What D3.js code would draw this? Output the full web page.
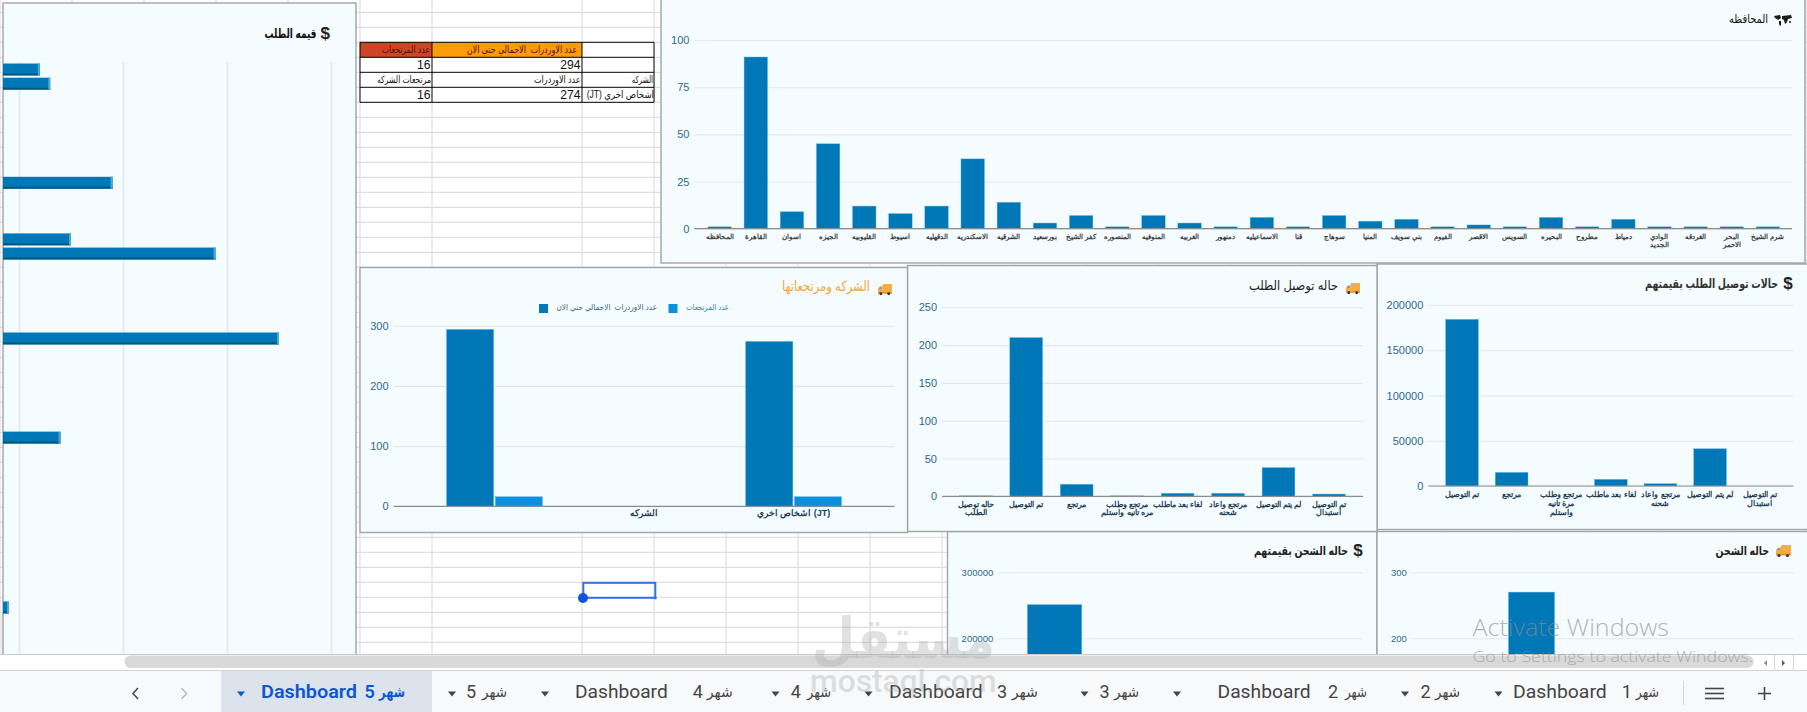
<!DOCTYPE html>
<html>
<head>
<meta charset="utf-8">
<script src="https://cdnjs.cloudflare.com/ajax/libs/d3/7.8.5/d3.min.js"></script>
<style>
  html, body { margin: 0; padding: 0; background: #fff; overflow: hidden; }
  svg { display: block; font-family: "Liberation Sans", "DejaVu Sans", sans-serif; }
  .cat text { font-weight: 600; }
  .domain { display: none; }
</style>
</head>
<body>
<svg id="sheet" width="1807" height="712"></svg>
<script>
// Governorate orders
const governorates = ["المحافظه","القاهرة","اسوان","الجيزه","القليوبيه","اسيوط","الدقهليه","الاسكندريه","الشرقيه","بورسعيد","كفر الشيخ","المنصوره","المنوفيه","الغربيه","دمنهور","الاسماعيليه","قنا","سوهاج","المنيا","بني سويف","الفيوم","الاقصر","السويس","البحيره","مطروح","دمياط","الوادي|الجديد","الغردقه","البحر|الاحمر","شرم الشيخ"];
const governorateOrders = [1,91,9,45,12,8,12,37,14,3,7,1,7,3,1,6,1,7,4,5,1,2,1,6,1,5,1,1,1,1];
const governorateTicks = [0,25,50,75,100];

// Carriers and their returns
const carriers = ["","الشركه","اشخاص اخري (JT)"];
const carrierOrders = [294,0,274];
const carrierReturns = [16,0,16];
const carrierTicks = [0,100,200,300];
const ordersLegend = "عدد الاوردرات  الاجمالي حتي الان";
const returnsLegend = "عدد المرتجعات";

// Delivery status counts
const deliveryStatuses = ["حاله توصيل|الطلب","تم التوصيل","مرتجع","مرتجع وطلب|مره تانيه واستلم","لغاء بعد ماطلب","مرتجع واعاد|شحنه","لم يتم التوصيل","تم التوصيل|استبدال"];
const deliveryCounts = [1,210,16,1,4,4,38,3];
const deliveryTicks = [0,50,100,150,200,250];

// Delivery status value
const valueStatuses = ["تم التوصيل","مرتجع","مرتجع وطلب|مرة تانيه|واستلم","لغاء بعد ماطلب","مرتجع واعاد|شحنه","لم يتم التوصيل","تم التوصيل|استبدال"];
const statusValues = [184200,15100,0,7400,2600,41200,0];
const statusValueTicks = [0,50000,100000,150000,200000];

// Shipping status: only the visible columns carry a value
const shippingSlots = [0,1,2,3,4];
const shippingCounts = [null,270,null,null,null];
const shippingCountTicks = [0,100,200,300];
const shippingValueSlots = [0,1,2,3];
const shippingValues = [251000,null,null,null];
const shippingValueTicks = [0,100000,200000,300000];

// Order value per row of the horizontal chart
const orderRows = [0,1,8,12,13,19,26,38];
const orderValues = [12000,13000,19000,15000,28900,35000,14000,9040];
const orderValueTicks = [10000,20000,30000,40000];
const orderRowCount = 42;

// Summary table
const tableHeader = ["عدد المرتجعات", ordersLegend, ""];
const tableTotals = ["16","294",""];
const tableCaptions = ["مرتجعات الشركه","عدد الاوردرات","الشركه"];
const tableCarrier = ["16","274","(JT) اشخاص اخري"];

// Sheet tabs, left to right
const tabNumbers = ["5","5","4","4","3","3","2","2","1"];
const tabIsDashboard = [true,false,true,false,true,false,true,false,true];
const monthWord = "شهر", dashboardWord = "Dashboard";

const BAR = "#0077b6", BAR_LIGHT = "#0a90de", EDGE = "#6fbde6";
const PANEL = "#f5fcff", BORDER = "#a0a3a6", TICK = "#2c6a8e", GRID = "#e1e7eb";
const svg = d3.select("#sheet");

svg.append("clipPath").attr("id","viewport").append("rect")
  .attr("width",1807).attr("height",654.5);
const sheet = svg.append("g").attr("clip-path","url(#viewport)");

// Spreadsheet cell lines
const rowLines = d3.range(12.3,660,15);
const cells = sheet.append("g").attr("stroke","#dedede").attr("stroke-width",1.2);
cells.selectAll(".c").data([0,72,144,216,288,360,432].concat(d3.range(582,1807,72))).join("line")
  .attr("x1",d=>d).attr("x2",d=>d).attr("y1",0).attr("y2",655);
cells.selectAll(".r").data(rowLines).join("line")
  .attr("x1",0).attr("x2",1807).attr("y1",d=>d).attr("y2",d=>d);
sheet.append("rect").attr("x",0).attr("y",614).attr("width",3).attr("height",40).attr("fill","#eeeeee");

function panel(x0,y0,x1,y1){
  return sheet.append("rect").attr("x",x0).attr("y",y0).attr("width",x1-x0).attr("height",y1-y0)
    .attr("fill",PANEL).attr("stroke",BORDER).attr("stroke-width",1.4);
}

function fitted(g,text,x0,x1,y,size,opts={}){
  return g.append("text").attr("x",x0).attr("y",y).attr("dominant-baseline","middle")
    .attr("font-size",size).attr("fill",opts.fill||"#222").attr("font-weight",opts.weight||400)
    .style("white-space","pre")
    .attr("textLength",x1-x0).attr("lengthAdjust","spacingAndGlyphs").text(text);
}

function dollar(g,x1,y,size=17){
  g.append("text").attr("x",x1).attr("y",y).attr("text-anchor","end").attr("dominant-baseline","middle")
   .attr("font-size",size).attr("font-weight",700).attr("fill","#222").text("$");
}

function truck(g,x,y,w){
  const k = w/15, t = g.append("g").attr("transform",`translate(${x},${y}) scale(${k})`);
  t.append("rect").attr("x",5).attr("y",0).attr("width",10).attr("height",9).attr("fill","#f7ab45").attr("rx",.8);
  t.append("path").attr("d","M0 9 V5 L2 2.5 H5 V9 Z").attr("fill","#f7ab45");
  t.append("path").attr("d","M1 5 L2.4 3.4 H4.2 V5 Z").attr("fill","#3ea0e0");
  t.append("rect").attr("x",0).attr("y",8.6).attr("width",15).attr("height",1.8).attr("fill","#e8912c");
  [3,11.5].forEach(c => t.append("circle").attr("cx",c).attr("cy",10.5).attr("r",1.6).attr("fill","#33383c"));
}

function worldMap(g,x,y){
  const m = g.append("g").attr("transform",`translate(${x},${y})`).attr("fill","#1b1b1b");
  m.append("path").attr("d","M0 1 L6 0 L7 3 L4 5 L3 4 L1 3 Z");
  m.append("path").attr("d","M5 6 L7 6 L7 10 L6 11 L5 9 Z");
  m.append("path").attr("d","M8 1 L17 0 L18 3 L14 4 L13 7 L11 9 L10 5 L8 4 Z");
  m.append("circle").attr("cx",16).attr("cy",7).attr("r",1);
}

// Vertical column chart with gridlines and band labels
function columns(c){
  const g = sheet.append("g");
  const y = d3.scaleLinear().domain([c.ticks[0],c.ticks[c.ticks.length-1]]).range([c.y0,c.y1]);
  const x = d3.scaleBand().domain(c.cats).range([c.bandL,c.bandR]).paddingInner(c.pad).paddingOuter(c.pad/2);

  g.append("g").attr("transform",`translate(${c.plotL},0)`)
    .call(d3.axisLeft(y).tickValues(c.ticks).tickSize(-(c.plotR-c.plotL)).tickPadding(5).tickFormat(d3.format("d")))
    .call(a => a.selectAll("line").attr("stroke",GRID).attr("stroke-width",1.1))
    .call(a => a.selectAll("text").attr("fill",TICK).attr("font-size",c.tickSize||11).attr("font-family","Liberation Sans"));

  if (c.series) c.series(g,x,y);
  else g.append("g").selectAll("rect").data(c.vals.map((v,i)=>({v,i})).filter(d=>d.v!=null&&d.v>0)).join("rect")
    .attr("x",d=>x(c.cats[d.i])).attr("width",x.bandwidth())
    .attr("y",d=>y(d.v)).attr("height",d=>Math.max(y(0)-y(d.v),1))
    .attr("fill",d=>(y(0)-y(d.v))<1?"#9dcfe8":BAR).attr("stroke",EDGE).attr("stroke-width",.4);

  g.append("line").attr("x1",c.plotL).attr("x2",c.plotR).attr("y1",y(0)).attr("y2",y(0))
    .attr("stroke","#888e92").attr("stroke-width",1.2);

  if (c.labels !== false) {
    const ax = g.append("g").attr("class","cat").attr("transform",`translate(0,${y(0)})`)
      .call(d3.axisBottom(x).tickSize(0).tickPadding(0).tickFormat(""));
    ax.selectAll(".tick").select("text").each(function(d){
      const t = d3.select(this).attr("y",c.labelDy).attr("dy",0).attr("fill",c.labelFill||"#3d3d3d").attr("font-size",c.labelSize||8.4);
      d.split("|").forEach((line,i)=> t.append("tspan").attr("x",0).attr("dy",i?c.lineH||8.6:0).text(line));
    });
  }
  return g;
}

// ---- Horizontal order value chart, running off the left edge ----
panel(3,3,356,670);
const orderPane = sheet.append("g");
const ox = d3.scaleLinear().domain([10000,40000]).range([19,331]);
const oy = d3.scaleBand().domain(d3.range(orderRowCount)).range([62.4,657]).paddingInner(.16).paddingOuter(.08);
orderPane.append("g").attr("transform","translate(0,654)")
  .call(d3.axisBottom(ox).tickValues(orderValueTicks).tickSize(-592).tickFormat(""))
  .call(a => a.selectAll("line").attr("stroke","#e2ebef").attr("stroke-width",2));
const rows = orderPane.selectAll(".bar").data(orderValues.map((v,i)=>({v,row:orderRows[i]}))).join("g");
rows.append("rect").attr("x",3).attr("y",d=>oy(d.row)).attr("width",d=>ox(d.v)-3).attr("height",oy.bandwidth()).attr("fill",BAR);
rows.append("rect").attr("x",3).attr("y",d=>oy(d.row)+oy.bandwidth()-2).attr("width",d=>ox(d.v)-3).attr("height",2).attr("fill","#02577f");
rows.append("rect").attr("x",d=>ox(d.v)-2).attr("y",d=>oy(d.row)).attr("width",2).attr("height",oy.bandwidth()).attr("fill","#4da7d8");
fitted(orderPane,"قيمه الطلب",264.5,316.5,35,13,{weight:700,fill:"#111"});
dollar(orderPane,330,35);

// ---- Summary table ----
const colX = [360,432,582,654], rowY = [42.3,57.3,72.3,87.3,102.3];
const tableRowsAll = [tableHeader,tableTotals,tableCaptions,tableCarrier];
const cellSpan = [
  [[381.7,430],[466.7,577],null],
  [null,null,null],
  [[377,431],[534,580.5],[631.7,653]],
  [null,null,[586.7,654]]
];
const table = sheet.append("g");
table.append("rect").attr("x",360).attr("y",42.3).attr("width",294).attr("height",60).attr("fill","#fff");
table.append("rect").attr("x",360).attr("y",42.3).attr("width",72).attr("height",15).attr("fill","#cf4524");
table.append("rect").attr("x",432).attr("y",42.3).attr("width",150).attr("height",15).attr("fill","#ff9a0b");
table.selectAll(".v").data(colX).join("line").attr("x1",d=>d).attr("x2",d=>d).attr("y1",42.3).attr("y2",102.3).attr("stroke","#000");
table.selectAll(".h").data(rowY).join("line").attr("x1",360).attr("x2",654).attr("y1",d=>d).attr("y2",d=>d).attr("stroke","#000");
tableRowsAll.forEach((row,r)=> row.forEach((txt,c)=>{
  if (!txt) return;
  const span = cellSpan[r][c], cy = rowY[r]+8;
  if (span) fitted(table,txt,span[0],span[1],cy,10,{fill:r===0?"#4a1204":"#111"});
  else table.append("text").attr("x",colX[c+1]-1.5).attr("y",cy).attr("text-anchor","end")
    .attr("dominant-baseline","middle").attr("font-size",12.2).attr("fill","#111").text(txt);
}));

// ---- Governorates ----
panel(661,-5,1805,263);
const gov = columns({cats:governorates,vals:governorateOrders,ticks:governorateTicks,
  plotL:694.4,plotR:1792,bandL:701.6,bandR:1786,pad:.35,y0:228.7,y1:40,labelDy:10.3,labelSize:7.3,lineH:7.8});
fitted(gov,"المحافظه",1729,1768,20,12,{fill:"#111"});
worldMap(gov,1774,15);

// ---- Shipping status panels sit under the upper row ----
panel(947.5,531.5,1377,700);
const shipValue = columns({cats:shippingValueSlots,vals:shippingValues,ticks:shippingValueTicks,tickSize:9.5,
  plotL:998.3,plotR:1362.7,bandL:1012.6,bandR:1348.6,pad:.352,y0:770.3,y1:572.3,labels:false});
fitted(shipValue,"حاله الشحن بقيمتهم",1254,1348,552,12,{weight:700,fill:"#222"});
dollar(shipValue,1362.7,552);

panel(1377,531.5,1812,700);
const shipCount = columns({cats:shippingSlots,vals:shippingCounts,ticks:shippingCountTicks,tickSize:9.5,
  plotL:1411.8,plotR:1793.6,bandL:1425,bandR:1780,pad:.35,y0:770.3,y1:572.3,labels:false});
fitted(shipCount,"حاله الشحن",1715.5,1769,552,12,{weight:700,fill:"#222"});
truck(shipCount,1776,545,15);

// ---- Delivery value ----
panel(1377,264,1812,529.5);
const status = columns({cats:valueStatuses,vals:statusValues,ticks:statusValueTicks,
  plotL:1428.3,plotR:1793.3,bandL:1437.2,bandR:1784.5,pad:.34,y0:486,y1:305,labelDy:10.5,labelSize:8.2,lineH:9,labelFill:"#1f3f58"});
fitted(status,"حالات توصيل الطلب بقيمتهم",1645,1778,285,13,{weight:700,fill:"#333"});
dollar(status,1792.7,285);

// ---- Delivery counts ----
panel(907.5,265.5,1377,531.5);
const delivery = columns({cats:deliveryStatuses,vals:deliveryCounts,ticks:deliveryTicks,
  plotL:942,plotR:1363,bandL:950.5,bandR:1354.2,pad:.35,y0:496.3,y1:307.3,labelDy:11,labelSize:8.2,lineH:8,labelFill:"#1f3f58"});
fitted(delivery,"حاله توصيل الطلب",1249,1338,286.7,13,{fill:"#222"});
truck(delivery,1346,283,14);

// ---- Carriers and returns ----
panel(360,267.5,907.5,532.5);
const carrierPane = columns({cats:carriers,ticks:carrierTicks,
  plotL:393.6,plotR:894.7,bandL:419.7,bandR:868.4,pad:.358,y0:506.3,y1:325.7,labelDy:10,labelSize:9,labelFill:"#1f3f58",
  series(g,x,y){
    const inner = d3.scaleBand().domain([0,1]).range([0,x.bandwidth()]).paddingInner(.03);
    const groups = g.selectAll(".grp").data(carriers).join("g").attr("transform",d=>`translate(${x(d)},0)`);
    groups.append("rect").attr("x",inner(0)).attr("width",inner.bandwidth())
      .attr("y",(d,i)=>y(carrierOrders[i])).attr("height",(d,i)=>y(0)-y(carrierOrders[i]))
      .attr("fill",BAR).attr("stroke",EDGE).attr("stroke-width",.5);
    groups.append("rect").attr("x",inner(1)).attr("width",inner.bandwidth())
      .attr("y",(d,i)=>y(carrierReturns[i])).attr("height",(d,i)=>y(0)-y(carrierReturns[i]))
      .attr("fill",BAR_LIGHT).attr("stroke",EDGE).attr("stroke-width",.5);
  }});
fitted(carrierPane,"الشركه ومرتجعاتها",782,870,287.7,14,{fill:"#f5a63d"});
truck(carrierPane,878,284,14);
const legend = carrierPane.append("g");
legend.append("rect").attr("x",539).attr("y",304).attr("width",9).attr("height",9).attr("fill",BAR);
fitted(legend,ordersLegend,556.5,657,308,8.5,{fill:"#45657c"});
legend.append("rect").attr("x",668.5).attr("y",304).attr("width",9).attr("height",9).attr("fill",BAR_LIGHT);
fitted(legend,returnsLegend,686,729,308,8.5,{fill:"#2a86c8"});

// Selected cell with its range handles
const sel = sheet.append("g");
sel.append("rect").attr("x",583.3).attr("y",582.8).attr("width",72).attr("height",15).attr("fill","none").attr("stroke","#356fe3").attr("stroke-width",2);
sel.append("circle").attr("cx",583).attr("cy",598).attr("r",5).attr("fill","#0f57d6");
sel.append("circle").attr("cx",655.3).attr("cy",598).attr("r",1.4).attr("fill","#356fe3");

// ---- Workbook chrome ----
const chrome = svg.append("g");
chrome.append("rect").attr("y",654.5).attr("width",1807).attr("height",16).attr("fill","#fff");
chrome.append("line").attr("x1",0).attr("x2",1807).attr("y1",654.5).attr("y2",654.5).attr("stroke","#c9c9c9");
chrome.append("rect").attr("x",124.5).attr("y",655.5).attr("width",1629).attr("height",12.5).attr("rx",6).attr("fill","#d9d9d9");
chrome.append("rect").attr("y",670.5).attr("width",1807).attr("height",42).attr("fill","#f8f9fb");
chrome.append("line").attr("x1",0).attr("x2",1807).attr("y1",670.5).attr("y2",670.5).attr("stroke","#d3d3d3");
chrome.append("rect").attr("x",221).attr("y",671).attr("width",211).attr("height",41).attr("fill","#dde3ea");

// Tab layout: dropdown arrow, then each word placed in its own slot
const tabSlots = [
  {arrow:241, dash:[261,357], num:364.5, ar:[379,405]},
  {arrow:452, num:466, ar:[482,507]},
  {arrow:545, dash:[575,667.7], num:692.7, ar:[706.7,732.7]},
  {arrow:775.5, num:790.7, ar:[807,831]},
  {arrow:868.5, dash:[889,982.7], num:997, ar:[1011.7,1038]},
  {arrow:1084.5, num:1099.5, ar:[1114,1139]},
  {arrow:1177, dash:[1217.5,1310.6], num:1328, ar:[1345,1367]},
  {arrow:1405, num:1420.5, ar:[1435,1460]},
  {arrow:1498.5, dash:[1513,1606.7], num:1621.8, ar:[1635.7,1659]}
];
const TAB_FONT = "Roboto, 'DejaVu Sans'";
tabSlots.forEach((s,i)=>{
  const active = i === 0, color = active ? "#0b57d0" : "#444", weight = active ? 600 : 400;
  const g = chrome.append("g").attr("fill",color).attr("font-family",TAB_FONT).attr("font-weight",weight);
  g.append("path").attr("d",`M${s.arrow-4} 691.5 h8 l-4 5 z`);
  if (tabIsDashboard[i]) g.append("text").attr("x",s.dash[0]).attr("y",693.5).attr("dominant-baseline","middle").attr("font-size",18)
    .attr("textLength",s.dash[1]-s.dash[0]).attr("lengthAdjust","spacingAndGlyphs").text(dashboardWord);
  g.append("text").attr("x",s.num).attr("y",693.5).attr("dominant-baseline","middle").attr("font-size",18).text(tabNumbers[i]);
  g.append("text").attr("x",s.ar[0]).attr("y",693.5).attr("dominant-baseline","middle").attr("font-size",15)
    .attr("textLength",s.ar[1]-s.ar[0]).attr("lengthAdjust","spacingAndGlyphs").text(monthWord);
});

chrome.append("path").attr("d","M138 688 l-5 5.5 l5 5.5").attr("fill","none").attr("stroke","#444").attr("stroke-width",1.5);
chrome.append("path").attr("d","M181.5 688 l5 5.5 l-5 5.5").attr("fill","none").attr("stroke","#bbb").attr("stroke-width",1.5);
chrome.append("line").attr("x1",1683.5).attr("x2",1683.5).attr("y1",681).attr("y2",705).attr("stroke","#d6d6d6");
chrome.selectAll(".menu").data([688.5,693.5,698.5]).join("line")
  .attr("x1",1705).attr("x2",1724).attr("y1",d=>d).attr("y2",d=>d).attr("stroke","#444").attr("stroke-width",1.6);
chrome.append("path").attr("d","M1758 693.5 h13 M1764.5 687 v13").attr("stroke","#444").attr("stroke-width",1.6).attr("fill","none");

// Scroll buttons at the end of the bar
chrome.selectAll(".sb").data([1774.5,1793.5]).join("line")
  .attr("x1",d=>d).attr("x2",d=>d).attr("y1",655).attr("y2",670).attr("stroke","#d8d8d8");
chrome.append("path").attr("d","M1767 660 l-3 3 l3 3 z").attr("fill","#888");
chrome.append("path").attr("d","M1782 660 l3 3 l-3 3 z").attr("fill","#555");

// Overlays
const overlay = svg.append("g").style("pointer-events","none");
const wm = overlay.append("g").attr("fill","#a6a6a6").attr("fill-opacity",.34);
wm.append("text").attr("x",811.7).attr("y",643).attr("dominant-baseline","middle")
  .attr("font-size",56).attr("font-weight",700).attr("textLength",183.3).attr("lengthAdjust","spacingAndGlyphs").text("مستقل");
wm.append("text").attr("x",810).attr("y",684).attr("dominant-baseline","middle")
  .attr("font-family","Roboto, 'Open Sans'").attr("font-size",31).attr("font-weight",500)
  .attr("textLength",186.7).attr("lengthAdjust","spacingAndGlyphs").text("mostaql.com");

const activate = overlay.append("g").attr("fill","#8d8d8d").attr("fill-opacity",.68).attr("font-family","'Open Sans', Roboto");
activate.append("text").attr("x",1472.5).attr("y",629.5).attr("dominant-baseline","middle").attr("font-size",24).attr("font-weight",300)
  .attr("textLength",196.5).attr("lengthAdjust","spacingAndGlyphs").text("Activate Windows");
activate.append("text").attr("x",1472.5).attr("y",657.5).attr("dominant-baseline","middle").attr("font-size",15).attr("font-weight",300)
  .attr("textLength",280.5).attr("lengthAdjust","spacingAndGlyphs").text("Go to Settings to activate Windows.");
</script>
</body>
</html>
